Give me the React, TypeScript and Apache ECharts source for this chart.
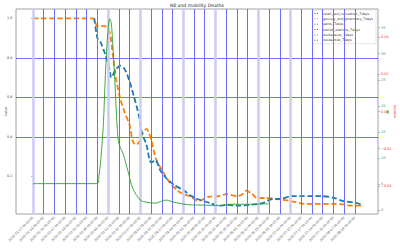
import React, { useEffect, useRef } from "react";
import * as echarts from "echarts";

const weekTicks = [
  "2020-01-17", "2020-01-24", "2020-01-31", "2020-02-07", "2020-02-14", "2020-02-21", "2020-02-28",
  "2020-03-06", "2020-03-13", "2020-03-20", "2020-03-27", "2020-04-03", "2020-04-10", "2020-04-17",
  "2020-04-24", "2020-05-01", "2020-05-08", "2020-05-15", "2020-05-22", "2020-05-29", "2020-06-05",
  "2020-06-12", "2020-06-19", "2020-06-26", "2020-07-03", "2020-07-10", "2020-07-17", "2020-07-24",
  "2020-07-31", "2020-08-07", "2020-08-14",
];
const eventDates = ["2020-01-17", "2020-03-06", "2020-03-27", "2020-04-24", "2020-05-15", "2020-06-12", "2020-07-03"];

const leftTicks = [0.2, 0.4, 0.6, 0.8, 1.0];
const deathTicks = [0, 5, 10, 15, 20, 25, 30, 35];
const mobilityTicks = [-0.04, -0.02, 0, 0.02, 0.04];

const mobilityNames = [
  "retail_and_recreation_7days",
  "grocery_and_pharmacy_7days",
  "parks_7days",
  "transit_stations_7days",
  "workplaces_7days",
  "residential_7days",
];
const mobilityColors = ["#1f77b4", "#ff7f0e", "#2ca02c", "#d62728", "#9467bd", "#8c564b"];

const blueDates = [
  "2020-02-26", "2020-02-28", "2020-03-01", "2020-03-04", "2020-03-07", "2020-03-08", "2020-03-11",
  "2020-03-14", "2020-03-17", "2020-03-20", "2020-03-23", "2020-03-26", "2020-03-28", "2020-03-31",
  "2020-04-03", "2020-04-06", "2020-04-09", "2020-04-13", "2020-04-18", "2020-04-24", "2020-04-30",
  "2020-05-05", "2020-05-12", "2020-05-18", "2020-05-22", "2020-05-31", "2020-06-06", "2020-06-12",
  "2020-06-16", "2020-06-21", "2020-06-26", "2020-07-03", "2020-07-09", "2020-07-16", "2020-07-24",
  "2020-07-31", "2020-08-06", "2020-08-13", "2020-08-18",
];
const blueValues = [
  1.0, 0.9, 0.88, 0.82, 0.74, 0.7, 0.74,
  0.76, 0.74, 0.68, 0.6, 0.51, 0.42, 0.36,
  0.27, 0.28, 0.23, 0.19, 0.156, 0.13, 0.097,
  0.08, 0.063, 0.051, 0.055, 0.051, 0.055, 0.06,
  0.068, 0.085, 0.085, 0.099, 0.1, 0.1, 0.099,
  0.092, 0.075, 0.068, 0.058,
];

const orangeDates = [
  "2020-01-17", "2020-02-25", "2020-02-28", "2020-03-04", "2020-03-07", "2020-03-09", "2020-03-11",
  "2020-03-14", "2020-03-17", "2020-03-20", "2020-03-22", "2020-03-24", "2020-03-26", "2020-03-28",
  "2020-03-31", "2020-04-03", "2020-04-06", "2020-04-08", "2020-04-11", "2020-04-15", "2020-04-20",
  "2020-04-24", "2020-04-29", "2020-05-04", "2020-05-11", "2020-05-18", "2020-05-22", "2020-05-29",
  "2020-06-01", "2020-06-04", "2020-06-08", "2020-06-11", "2020-06-17", "2020-06-24", "2020-07-03",
  "2020-07-13", "2020-07-31", "2020-08-06", "2020-08-11", "2020-08-18",
];
const orangeValues = [
  1.0, 1.0, 0.96, 0.96, 0.93, 0.82, 0.7,
  0.59, 0.52, 0.46, 0.38, 0.36, 0.37, 0.41,
  0.44, 0.39, 0.29, 0.26, 0.22, 0.17, 0.13,
  0.11, 0.097, 0.075, 0.097, 0.1, 0.11, 0.1,
  0.105, 0.127, 0.11, 0.09, 0.09, 0.085, 0.075,
  0.06, 0.06, 0.058, 0.051, 0.051,
];

const deathDates = [
  "2020-01-17", "2020-02-28", "2020-02-29", "2020-03-01", "2020-03-02", "2020-03-03", "2020-03-04",
  "2020-03-05", "2020-03-06", "2020-03-07", "2020-03-08", "2020-03-09", "2020-03-10", "2020-03-11",
  "2020-03-12", "2020-03-13", "2020-03-16", "2020-03-19", "2020-03-22", "2020-03-27", "2020-03-31",
  "2020-04-06", "2020-04-09", "2020-04-13", "2020-04-18", "2020-04-24", "2020-04-30", "2020-05-05",
  "2020-05-18", "2020-05-24", "2020-06-06", "2020-06-19",
];
const deathValues = [
  5.06, 5.06, 6.5, 9, 12.5, 17, 24.4,
  30.5, 34.6, 36.7, 36, 32, 27, 21,
  15.5, 12.8, 10.6, 7.4, 4.2, 1.9, 1.5,
  1.3, 1.6, 1.9, 1.5, 1.15, 0.96, 0.96,
  0.83, 1.1, 1.1, 1.2,
];

const DAY = 86400000;
const FONT = "DejaVu Sans";

export default function App() {
  const ref = useRef<HTMLDivElement>(null);
  useEffect(() => {
    if (!ref.current) return;
    const chart = echarts.init(ref.current, null, { renderer: "svg" });
    const base = Date.UTC(2020, 0, 17);
    const dn = (s: string) => {
      const [y, m, d] = s.split("-").map(Number);
      return Math.round((Date.UTC(y, m - 1, d) - base) / DAY);
    };
    const pad = (n: number) => (n < 10 ? "0" + n : "" + n);
    const fmtDate = (v: number) => {
      const dt = new Date(base + Math.round(v) * DAY);
      return `${dt.getUTCFullYear()}-${pad(dt.getUTCMonth() + 1)}-${pad(dt.getUTCDate())} 00:00:00`;
    };
    const fmtRed = (v: number) => {
      const a = Math.abs(v).toFixed(2);
      return v < -1e-9 ? "\u2212" + a : a;
    };
    const weekVals = weekTicks.map(dn);
    const eventVals = eventDates.map(dn);
    const gridBlue = "rgba(0,0,255,0.55)";

    const option: any = {
      animation: false,
      backgroundColor: "#ffffff",
      textStyle: { fontFamily: FONT },
      grid: {
        left: 16, top: 9, width: 362, height: 205,
        outerBoundsMode: "none", containLabel: false,
        show: true, borderColor: "#8a8a8a", borderWidth: 0.8, backgroundColor: "transparent",
      },
      graphic: [
        {
          type: "text", x: 197, y: 5.3, z: 10,
          style: { text: "R0 and mobility Deaths", fontSize: 4.6, fontFamily: FONT, fill: "#222", textAlign: "center", textVerticalAlign: "middle" },
        },
        { type: "rect", shape: { x: 386.7, y: 110.5, width: 2, height: 3 }, style: { fill: "#2ca02c", opacity: 0.7 }, z: 10 },
      ],
      legend: {
        orient: "vertical",
        right: 24,
        top: 10,
        data: mobilityNames,
        icon: "path://M0,0h1v1h-1z M2.5,0h1v1h-1z",
        itemWidth: 3.5,
        itemHeight: 1,
        itemGap: 1.35,
        padding: [1.5, 3, 1.5, 2],
        backgroundColor: "rgba(255,255,255,0.85)",
        borderColor: "#cccccc",
        borderWidth: 0.5,
        borderRadius: 1,
        textStyle: { fontSize: 3.3, lineHeight: 4, color: "#333", fontFamily: FONT },
        selectedMode: false,
      },
      xAxis: {
        type: "value",
        min: -11.09,
        max: 225.05,
        axisLine: { show: false },
        axisTick: { show: true, length: 2, lineStyle: { color: "#8a8a8a", width: 0.6 }, customValues: weekVals },
        axisLabel: {
          customValues: weekVals,
          rotate: 45, fontSize: 3.2, color: "#444", margin: 3, fontFamily: FONT,
          formatter: (v: number) => fmtDate(v),
        },
        splitLine: { show: false },
      },
      yAxis: [
        {
          type: "value", position: "left", min: 0.009, max: 1.047, splitNumber: 5,
          axisLine: { show: false },
          axisTick: { show: true, length: 2, lineStyle: { color: "#8a8a8a", width: 0.6 }, customValues: leftTicks },
          axisLabel: { customValues: leftTicks, fontSize: 3.4, color: "#444", margin: 3.5, formatter: (v: number) => v.toFixed(1) },
          splitLine: { show: true, showMinLine: false, showMaxLine: false, lineStyle: { color: gridBlue, width: 1 } },
          name: "Value", nameLocation: "middle", nameGap: 9, nameRotate: 90, nameMoveOverlap: false,
          nameTextStyle: { fontSize: 3.4, color: "#444" },
        },
        {
          type: "value", position: "right", min: -0.77, max: 38.59, splitNumber: 8,
          axisLine: { show: false },
          axisTick: { show: true, length: 2, lineStyle: { color: "#8a8a8a", width: 0.6 }, customValues: deathTicks },
          axisLabel: { customValues: deathTicks, fontSize: 3.4, color: "#2ca02c", margin: 3 },
          splitLine: { show: false },
        },
        {
          type: "value", position: "right", min: -0.0551, max: 0.0551, splitNumber: 5,
          axisLine: { show: false },
          axisTick: { show: true, length: 2, lineStyle: { color: "#8a8a8a", width: 0.6 }, customValues: mobilityTicks },
          axisLabel: { customValues: mobilityTicks, fontSize: 3.4, color: "#ff2020", margin: 3, formatter: (v: number) => fmtRed(v) },
          splitLine: { show: false },
          name: "mobility", nameLocation: "middle", nameGap: 15, nameRotate: 90, nameMoveOverlap: false,
          nameTextStyle: { fontSize: 3.4, color: "#ff2020" },
        },
      ],
      series: [
        {
          type: "line", name: "grid", xAxisIndex: 0, yAxisIndex: 0, z: 1,
          data: weekVals.map((d) => [d, null]), showSymbol: false, silent: true,
          lineStyle: { opacity: 0 },
          markLine: {
            silent: true, symbol: ["none", "none"], label: { show: false },
            animation: false,
            data: [
              ...weekVals
                .filter((d) => eventVals.indexOf(d) < 0)
                .map((d) => ({ xAxis: d, lineStyle: { color: "rgb(110,110,245)", width: 1, type: "solid" } })),
              ...eventVals.map((d) => ({ xAxis: d, lineStyle: { color: "rgb(204,204,246)", width: 2.6, type: "solid" } })),
            ],
          },
        },
        {
          type: "line", name: "R0 (orange)", xAxisIndex: 0, yAxisIndex: 0, z: 4,
          data: orangeDates.map((d, i) => [dn(d), orangeValues[i]]),
          showSymbol: false, smooth: 0.25,
          lineStyle: { color: "#ff7f0e", width: 1.8, type: [5.5, 2.6] },
          itemStyle: { color: "#ff7f0e" },
        },
        {
          type: "line", name: "R0 (blue)", xAxisIndex: 0, yAxisIndex: 0, z: 4,
          data: blueDates.map((d, i) => [dn(d), blueValues[i]]),
          showSymbol: false, smooth: 0.25,
          lineStyle: { color: "#1f77b4", width: 1.8, type: [5.5, 2.6] },
          itemStyle: { color: "#1f77b4" },
        },
        {
          type: "line", name: "Deaths", xAxisIndex: 0, yAxisIndex: 1, z: 5,
          data: deathDates.map((d, i) => [dn(d), deathValues[i]]),
          showSymbol: false, smooth: 0.3,
          lineStyle: { color: "#2ca02c", width: 0.9 },
          itemStyle: { color: "#2ca02c" },
        },
        ...mobilityNames.map((n, i) => ({
          type: "line", name: n, xAxisIndex: 0, yAxisIndex: 2, data: [],
          showSymbol: false, color: mobilityColors[i],
          itemStyle: { color: mobilityColors[i] },
          lineStyle: { color: mobilityColors[i], type: "dotted", width: 1 },
        })),
      ],
    };
    chart.setOption(option);
    return () => chart.dispose();
  }, []);
  return (
    <div
      ref={ref}
      style={{ position: "fixed", left: 0, top: 0, width: 400, height: 250, background: "#fff" }}
    />
  );
}
